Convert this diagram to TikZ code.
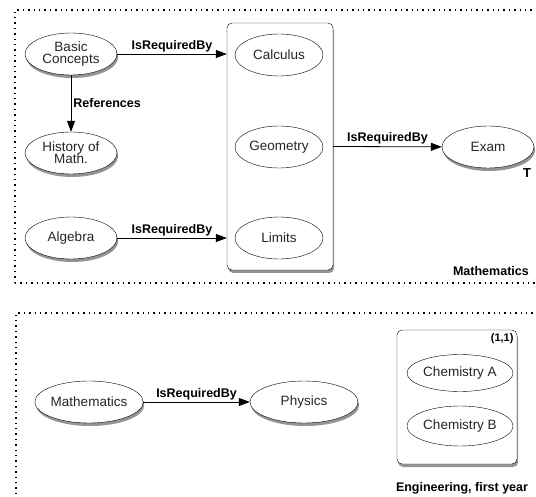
\documentclass[tikz,border=0pt]{standalone}
\usepackage{fontspec}
\setmainfont{Liberation Sans}
\usetikzlibrary{arrows.meta,shadows,shapes.geometric}

\tikzset{
  topic/.style={ellipse,draw,thin,fill=white,inner sep=0pt,
    minimum width=92,minimum height=42,align=center,
    font=\fontsize{13.5}{14}\selectfont,text=black!85},
  shadowed/.style={drop shadow={shadow xshift=1.2pt,shadow yshift=-3pt,
    fill=black!70,opacity=0.6}},
  group/.style={draw,thin,rounded corners=5pt,fill=white,inner sep=0pt},
  rel/.style={-{Triangle[length=11pt,width=8pt]},thick},
  rellabel/.style={font=\bfseries\fontsize{12.5}{13}\selectfont,inner sep=2pt},
  frame/.style={line width=1.4pt,dash pattern=on 1.4pt off 4pt},
}

\begin{document}
\begin{tikzpicture}[x=1pt,y=-1pt]
  \clip (0,0) rectangle (536,497);

  % Mathematics module
  \draw[frame] (15,283) -- (15,10) -- (545,10);
  \draw[frame] (15,283) -- (545,283);
  \node[rellabel,anchor=east] (mathname) at (531,271) {Mathematics};

  \node[group,shadowed,minimum width=106,minimum height=247] (mathbox) at (280,146.5) {};
  \node[topic,minimum width=88] (calc) at (279,55) {Calculus};
  \node[topic,minimum width=88] (geo) at (279,147) {Geometry};
  \node[topic,minimum width=88] (lim) at (279,238) {Limits};

  \node[topic,shadowed] (basic) at (71,54) {Basic\\[-2pt]Concepts};
  \node[topic,shadowed] (hist) at (71,153) {History of\\[-2pt]Math.};
  \node[topic,shadowed] (alg) at (71,238) {Algebra};
  \node[topic,shadowed] (exam) at (488,147) {Exam};
  \node[font=\bfseries\fontsize{13}{13}\selectfont] (tmark) at (527,173) {T};

  \draw[rel] (basic) -- (basic -| mathbox.west)
    node[rellabel,midway,above] {IsRequiredBy};
  \draw[rel] (basic) -- (hist)
    node[rellabel,midway,right] {References};
  \draw[rel] (alg) -- (alg -| mathbox.west)
    node[rellabel,midway,above] {IsRequiredBy};
  \draw[rel] (mathbox.east) -- (exam)
    node[rellabel,midway,above] {IsRequiredBy};

  % Engineering, first year
  \draw[frame] (16,505) -- (16,313) -- (545,313);
  \node[rellabel] (engname) at (462,488) {Engineering, first year};

  \node[topic,shadowed,minimum width=108] (maths) at (89,402) {Mathematics};
  \node[topic,shadowed,minimum width=108] (phys) at (304,402) {Physics};
  \draw[rel] (maths) -- (phys)
    node[rellabel,midway,above] {IsRequiredBy};

  \node[group,shadowed,minimum width=120,minimum height=134] (chembox) at (457,397) {};
  \node[font=\bfseries\fontsize{11}{12}\selectfont,anchor=north east,inner sep=3.5pt] (card) at (chembox.north east) {(1,1)};
  \node[topic,minimum width=106,minimum height=37] (chema) at (460,373) {Chemistry A};
  \node[topic,minimum width=106,minimum height=40] (chemb) at (460,426) {Chemistry B};
\end{tikzpicture}
\end{document}
